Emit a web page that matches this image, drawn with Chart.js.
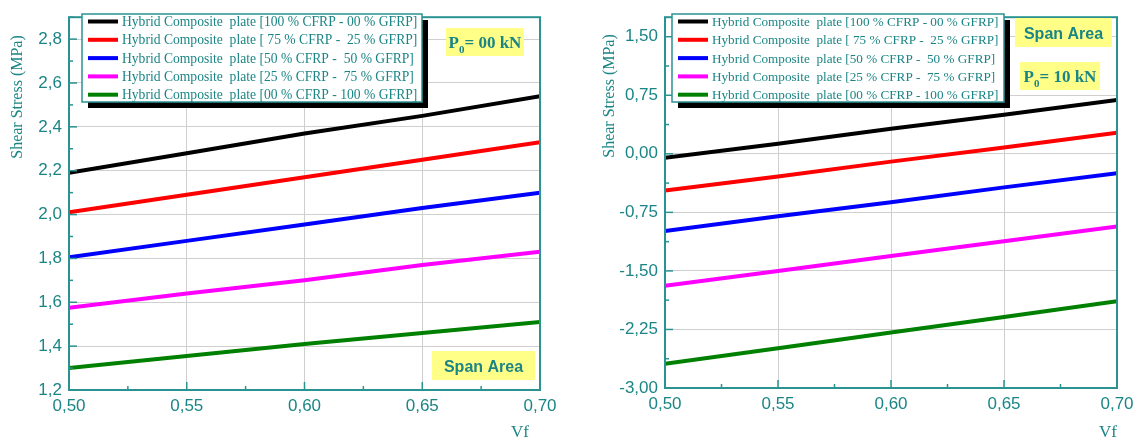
<!DOCTYPE html>
<html>
<head>
<meta charset="utf-8">
<script src="https://cdn.jsdelivr.net/npm/chart.js@4.4.0/dist/chart.umd.min.js"></script>
<style>
  html, body { margin: 0; padding: 0; background: #fff; }
  #wrap { position: relative; width: 1145px; height: 441px; }
  .pane { position: absolute; top: 0; }
</style>
</head>
<body>
<div id="wrap">
  <div class="pane" style="left:0px"><canvas id="left_chart" width="572" height="441"></canvas></div>
  <div class="pane" style="left:573px"><canvas id="right_chart" width="572" height="441"></canvas></div>
</div>

<script>
// values
var vf = [0.50, 0.55, 0.60, 0.65, 0.70];

var series_labels = [
  "Hybrid Composite  plate [100 % CFRP - 00 % GFRP]",
  "Hybrid Composite  plate [ 75 % CFRP -  25 % GFRP]",
  "Hybrid Composite  plate [50 % CFRP -  50 % GFRP]",
  "Hybrid Composite  plate [25 % CFRP -  75 % GFRP]",
  "Hybrid Composite  plate [00 % CFRP - 100 % GFRP]"
];
var series_colors = ["#000000", "#ff0000", "#0000ff", "#ff00ff", "#008000"];

// P0 = 00 kN
var p00_c100 = [2.19, 2.28, 2.37, 2.45, 2.54];
var p00_c75  = [2.01, 2.09, 2.17, 2.25, 2.33];
var p00_c50  = [1.805, 1.88, 1.955, 2.03, 2.10];
var p00_c25  = [1.575, 1.64, 1.70, 1.77, 1.83];
var p00_c00  = [1.30, 1.355, 1.41, 1.46, 1.51];

// P0 = 10 kN
var p10_c100 = [-0.05, 0.13, 0.32, 0.50, 0.69];
var p10_c75  = [-0.47, -0.29, -0.10, 0.08, 0.27];
var p10_c50  = [-0.99, -0.80, -0.62, -0.43, -0.25];
var p10_c25  = [-1.69, -1.50, -1.31, -1.12, -0.93];
var p10_c00  = [-2.69, -2.49, -2.29, -2.09, -1.89];

var x_ticks = [0.50, 0.55, 0.60, 0.65, 0.70];
var left_y_ticks = [1.2, 1.4, 1.6, 1.8, 2.0, 2.2, 2.4, 2.6, 2.8];
var right_y_ticks = [-3.00, -2.25, -1.50, -0.75, 0.00, 0.75, 1.50];

var teal = "#1b8585";
var frameTeal = "#2b9292";

function fmt(v, d) {
  return Number(v).toFixed(d).replace(".", ",");
}

function makeDatasets(arrs) {
  var out = [];
  arrs.forEach(function(a, i) {
    out.push({
      label: series_labels[i],
      data: vf.map(function(x, j) { return {x: x, y: a[j]}; }),
      borderColor: series_colors[i],
      backgroundColor: series_colors[i],
      borderWidth: 4,
      pointRadius: 0,
      tension: 0,
      fill: false
    });
  });
  return out;
}

// draws frame, inward ticks, boxed legend, notes, axis titles
var decoPlugin = {
  id: "deco",
  afterDraw: function(chart, args, opts) {
    var ctx = chart.ctx;
    var a = chart.chartArea;
    var xs = chart.scales.x, ys = chart.scales.y;
    ctx.save();

    // inward ticks
    ctx.strokeStyle = frameTeal;
    ctx.lineWidth = 1.5;
    var v;
    for (v = xs.min; v <= xs.max + 1e-9; v += opts.xMinor) {
      var px = xs.getPixelForValue(v);
      var major = Math.abs((v - xs.min) / opts.xMajor - Math.round((v - xs.min) / opts.xMajor)) < 1e-6;
      ctx.beginPath();
      ctx.moveTo(px, a.bottom);
      ctx.lineTo(px, a.bottom - (major ? 8 : 4));
      ctx.stroke();
    }
    for (v = ys.min; v <= ys.max + 1e-9; v += opts.yMinor) {
      var py = ys.getPixelForValue(v);
      var majorY = Math.abs((v - ys.min) / opts.yMajor - Math.round((v - ys.min) / opts.yMajor)) < 1e-6;
      ctx.beginPath();
      ctx.moveTo(a.left, py);
      ctx.lineTo(a.left + (majorY ? 8 : 4), py);
      ctx.stroke();
    }

    // frame
    ctx.strokeStyle = frameTeal;
    ctx.lineWidth = 2;
    ctx.strokeRect(a.left, a.top, a.right - a.left, a.bottom - a.top);

    // legend box
    var L = opts.legend;
    ctx.fillStyle = "#000";
    ctx.fillRect(L.x + 6, L.y + 6, L.w, L.h);
    ctx.fillStyle = "#fff";
    ctx.fillRect(L.x, L.y, L.w, L.h);
    ctx.strokeStyle = frameTeal;
    ctx.lineWidth = 1.5;
    ctx.strokeRect(L.x, L.y, L.w, L.h);
    ctx.font = L.font + "px 'Liberation Serif'";
    ctx.textBaseline = "middle";
    ctx.textAlign = "left";
    chart.data.datasets.forEach(function(ds, i) {
      var ry = L.y + 7.5 + i * 18.3;
      ctx.strokeStyle = ds.borderColor;
      ctx.lineWidth = 4;
      ctx.beginPath();
      ctx.moveTo(L.x + 6, ry);
      ctx.lineTo(L.x + 36, ry);
      ctx.stroke();
      ctx.fillStyle = teal;
      ctx.fillText(ds.label, L.x + 40, ry + 1);
    });

    // notes
    opts.notes.forEach(function(n) {
      ctx.fillStyle = "#ffff88";
      ctx.fillRect(n.x, n.y, n.w, n.h);
      ctx.fillStyle = teal;
      ctx.textBaseline = "alphabetic";
      ctx.textAlign = "left";
      var cy = n.y + n.h / 2 + 6;
      if (n.kind === "p0") {
        ctx.font = "bold 17px 'Liberation Serif'";
        var w1 = ctx.measureText("P").width;
        ctx.font = "bold 11px 'Liberation Serif'";
        var w2 = ctx.measureText("0").width;
        ctx.font = "bold 17px 'Liberation Serif'";
        var w3 = ctx.measureText(n.text).width;
        var sx = n.x + (n.w - (w1 + w2 + w3)) / 2;
        ctx.fillText("P", sx, cy);
        ctx.font = "bold 11px 'Liberation Serif'";
        ctx.fillText("0", sx + w1, cy + 5);
        ctx.font = "bold 17px 'Liberation Serif'";
        ctx.fillText(n.text, sx + w1 + w2, cy);
      } else {
        ctx.font = "bold 16px 'Liberation Sans'";
        ctx.textAlign = "center";
        ctx.fillText(n.text, n.x + n.w / 2, cy);
      }
    });

    // axis titles
    ctx.fillStyle = teal;
    ctx.font = "17px 'Liberation Serif'";
    ctx.textAlign = "center";
    ctx.textBaseline = "middle";
    ctx.fillText("Vf", opts.xTitle.x, opts.xTitle.y);
    ctx.translate(opts.yTitle.x, opts.yTitle.y);
    ctx.rotate(-Math.PI / 2);
    ctx.font = "16px 'Liberation Serif'";
    ctx.fillText("Shear Stress (MPa)", 0, 0);
    ctx.restore();
  }
};

function makeOptions(cfg) {
  return {
    responsive: false,
    animation: false,
    layout: { padding: { top: cfg.top, right: cfg.right, left: 0, bottom: 0 } },
    plugins: {
      legend: { display: false },
      tooltip: { enabled: false },
      deco: cfg.deco
    },
    scales: {
      x: {
        type: "linear",
        min: 0.5,
        max: 0.7,
        afterBuildTicks: function(s) { s.ticks = x_ticks.map(function(t) { return {value: t}; }); },
        afterFit: function(s) { s.height = cfg.xHeight; },
        ticks: {
          callback: function(v) { return fmt(v, 2); },
          color: teal,
          font: { family: "Liberation Sans", size: 17 },
          padding: 6,
          maxRotation: 0,
          autoSkip: false
        },
        grid: { color: "#cfcfcf", lineWidth: 1, drawTicks: false },
        border: { display: false }
      },
      y: {
        type: "linear",
        min: cfg.yMin,
        max: cfg.yMax,
        afterBuildTicks: function(s) { s.ticks = cfg.yTicks.map(function(t) { return {value: t}; }); },
        afterFit: function(s) { s.width = cfg.yWidth; },
        ticks: {
          callback: function(v) { return fmt(v, cfg.yDec); },
          color: teal,
          font: { family: "Liberation Sans", size: 17 },
          padding: 7,
          autoSkip: false
        },
        grid: { color: "#cfcfcf", lineWidth: 1, drawTicks: false },
        border: { display: false }
      }
    }
  };
}

new Chart(document.getElementById("left_chart"), {
  type: "line",
  data: { datasets: makeDatasets([p00_c100, p00_c75, p00_c50, p00_c25, p00_c00]) },
  options: makeOptions({
    top: 12, right: 32, xHeight: 51, yWidth: 69,
    yMin: 1.2, yMax: 2.9, yTicks: left_y_ticks, yDec: 1,
    deco: {
      xMajor: 0.05, xMinor: 0.025, yMajor: 0.2, yMinor: 0.1,
      legend: { x: 82, y: 14, w: 340, h: 88, font: 13.6 },
      notes: [
        { kind: "p0", text: "= 00 kN", x: 446, y: 28, w: 78, h: 28 },
        { kind: "span", text: "Span Area", x: 432, y: 351, w: 103, h: 29 }
      ],
      xTitle: { x: 520, y: 433 },
      yTitle: { x: 18, y: 97 }
    }
  }),
  plugins: [decoPlugin]
});

new Chart(document.getElementById("right_chart"), {
  type: "line",
  data: { datasets: makeDatasets([p10_c100, p10_c75, p10_c50, p10_c25, p10_c00]) },
  options: makeOptions({
    top: 13, right: 28, xHeight: 53, yWidth: 92,
    yMin: -3.0, yMax: 1.75, yTicks: right_y_ticks, yDec: 2,
    deco: {
      xMajor: 0.05, xMinor: 0.025, yMajor: 0.75, yMinor: 0.375,
      legend: { x: 99, y: 14, w: 332, h: 88, font: 13.2 },
      notes: [
        { kind: "span", text: "Span Area", x: 442, y: 18, w: 97, h: 29 },
        { kind: "p0", text: "= 10 kN", x: 447, y: 62, w: 80, h: 28 }
      ],
      xTitle: { x: 535, y: 433 },
      yTitle: { x: 37, y: 96 }
    }
  }),
  plugins: [decoPlugin]
});
</script>
</body>
</html>
